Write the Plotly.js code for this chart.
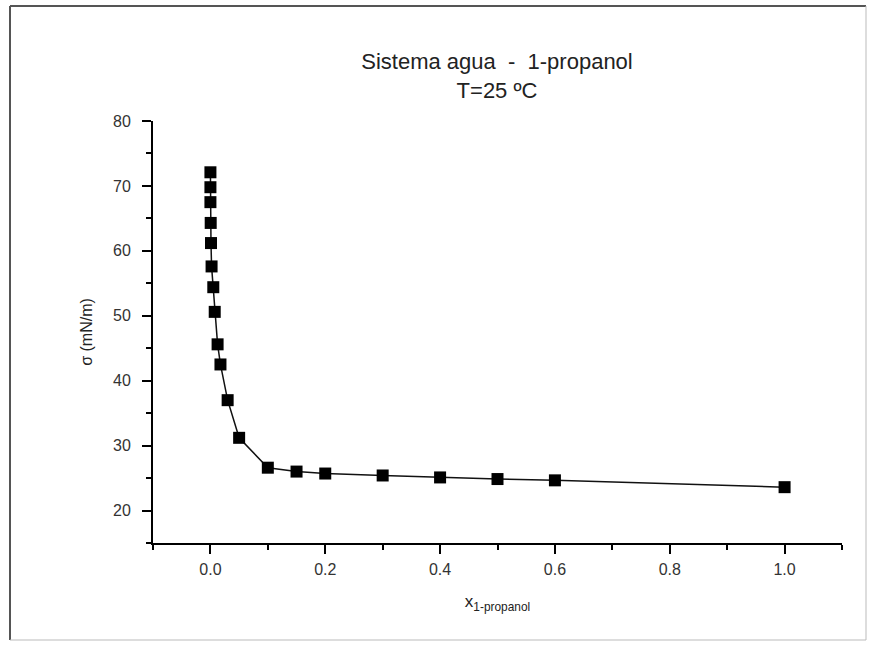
<!DOCTYPE html>
<html>
<head>
<meta charset="utf-8">
<script src="https://cdn.plot.ly/plotly-3.0.1.min.js"></script>
<style>
  html, body { margin: 0; padding: 0; background: #fff; }
  #chart { width: 877px; height: 650px; }
</style>
</head>
<body>
<div id="chart"></div>
<script>
// Mole fraction of 1-propanol
const xPropanol = [0, 0, 0, 0.0005, 0.001, 0.002, 0.005, 0.0075, 0.0125, 0.0175, 0.03, 0.05, 0.1, 0.15, 0.2, 0.3, 0.4, 0.5, 0.6, 1.0];
// Surface tension sigma (mN/m)
const sigma = [72.1, 69.8, 67.5, 64.3, 61.2, 57.6, 54.4, 50.6, 45.6, 42.5, 37.0, 31.2, 26.6, 26.0, 25.7, 25.4, 25.1, 24.85, 24.65, 23.6];

const xTicks = [0.0, 0.2, 0.4, 0.6, 0.8, 1.0];
const yTicks = [20, 30, 40, 50, 60, 70, 80];

const fontFam = 'Liberation Sans, Arial, sans-serif';

const trace = {
  x: xPropanol,
  y: sigma,
  type: 'scatter',
  mode: 'lines+markers',
  line: { color: '#111', width: 1.5 },
  marker: { symbol: 'square', size: 12, color: '#000' },
  showlegend: false,
  hoverinfo: 'x+y'
};

const layout = {
  width: 877,
  height: 650,
  paper_bgcolor: '#fff',
  plot_bgcolor: '#fff',
  margin: { l: 153, r: 35, t: 121, b: 107 },
  font: { family: fontFam, color: '#222' },
  title: {
    text: 'Sistema agua  -  1-propanol<br>T=25 ºC',
    font: { family: fontFam, size: 22, color: '#222' },
    x: 497 / 877,
    xanchor: 'center',
    y: 1 - 69 / 650,
    yanchor: 'top',
    yref: 'container'
  },
  xaxis: {
    range: [-0.1, 1.1],
    tickvals: xTicks,
    ticktext: xTicks.map(v => v.toFixed(1)),
    ticks: 'outside',
    ticklen: 9,
    tickwidth: 2,
    tickcolor: '#000',
    ticklabelstandoff: 2,
    minor: { dtick: 0.1, tick0: 0, ticks: 'outside', ticklen: 5, tickwidth: 2, tickcolor: '#000', showgrid: false },
    showline: true,
    linecolor: '#000',
    linewidth: 2,
    showgrid: false,
    zeroline: false,
    tickfont: { family: fontFam, size: 16, color: '#333' },
    title: {
      text: 'x<sub>1-propanol</sub>',
      font: { family: fontFam, size: 17, color: '#222' },
      standoff: 18
    }
  },
  yaxis: {
    range: [15, 80],
    tickvals: yTicks,
    ticks: 'outside',
    ticklen: 9,
    tickwidth: 2,
    tickcolor: '#000',
    ticklabelstandoff: 8,
    minor: { dtick: 5, tick0: 0, ticks: 'outside', ticklen: 5, tickwidth: 2, tickcolor: '#000', showgrid: false },
    showline: true,
    linecolor: '#000',
    linewidth: 2,
    showgrid: false,
    zeroline: false,
    tickfont: { family: fontFam, size: 16, color: '#333' },
    title: {
      text: 'σ (mN/m)',
      font: { family: fontFam, size: 16, color: '#222' },
      standoff: 16
    }
  },
  shapes: [
    { type: 'line', xref: 'paper', yref: 'paper', x0: -143/689, x1: -143/689, y0: (543 - 640) / 422, y1: (543 - 6) / 422, line: { color: '#555', width: 2 } },
    { type: 'line', xref: 'paper', yref: 'paper', x0: -143/689, x1: (866 - 153) / 689, y0: (543 - 6) / 422, y1: (543 - 6) / 422, line: { color: '#555', width: 2 } },
    { type: 'line', xref: 'paper', yref: 'paper', x0: (866 - 153) / 689, x1: (866 - 153) / 689, y0: (543 - 640) / 422, y1: (543 - 6) / 422, line: { color: '#bbb', width: 1 } },
    { type: 'line', xref: 'paper', yref: 'paper', x0: -143/689, x1: (866 - 153) / 689, y0: (543 - 640) / 422, y1: (543 - 640) / 422, line: { color: '#bbb', width: 1 } }
  ]
};

Plotly.newPlot('chart', [trace], layout, { displayModeBar: false, staticPlot: true });
</script>
</body>
</html>
